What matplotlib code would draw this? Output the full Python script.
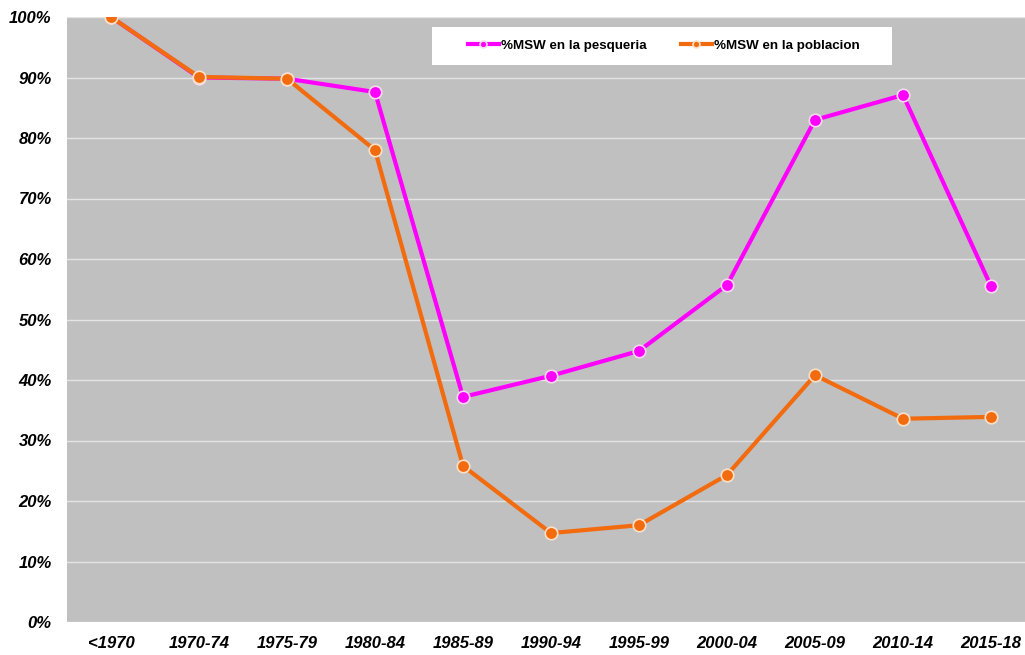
import matplotlib.pyplot as plt
from matplotlib.ticker import FuncFormatter
from matplotlib.patches import Rectangle

plt.rcParams['font.family'] = ['Liberation Sans', 'DejaVu Sans']

# periodos
periods = ['<1970', '1970-74', '1975-79', '1980-84', '1985-89', '1990-94',
           '1995-99', '2000-04', '2005-09', '2010-14', '2015-18']

# % MSW
pesqueria = [100.0, 90.0, 89.8, 87.6, 37.2, 40.7, 44.8, 55.7, 83.0, 87.1, 55.5]
poblacion = [100.0, 90.1, 89.8, 78.0, 25.8, 14.7, 16.0, 24.3, 40.8, 33.6, 33.9]

fig = plt.figure(figsize=(10.25, 6.55), dpi=100)
ax = fig.add_axes([67 / 1025, 33 / 655, 958 / 1025, 605 / 655])
ax.set_facecolor('#C0C0C0')

x = list(range(len(periods)))
ax.plot(x, pesqueria, color='#FF00FF', lw=3, marker='o', ms=9,
        mfc='#FF00FF', mec='#F8D8F0', mew=1.2, label='%MSW en la pesqueria', zorder=3)
ax.plot(x, poblacion, color='#F26B0F', lw=3, marker='o', ms=9,
        mfc='#F26B0F', mec='#FBE0C8', mew=1.2, label='%MSW en la poblacion', zorder=4)

ax.set_ylim(0, 100)
ax.set_xlim(-0.5, -0.5 + 958 / 88)
ax.set_yticks(range(0, 101, 10))
ax.yaxis.set_major_formatter(FuncFormatter(lambda v, p: f'{int(v)}%'))
ax.set_xticks(x)
ax.set_xticklabels(periods)
ax.grid(axis='y', color='#E4E4E4', lw=1)
ax.set_axisbelow(True)
for s in ax.spines.values():
    s.set_visible(False)
ax.tick_params(length=0)
ax.tick_params(axis='y', pad=11)
ax.tick_params(axis='x', pad=10)
for lab in ax.get_xticklabels() + ax.get_yticklabels():
    lab.set_fontsize(12)
    lab.set_fontweight('bold')
    lab.set_fontstyle('italic')

# caja blanca de la leyenda
ax.add_patch(Rectangle((432 / 1025, 1 - 65 / 655), 460 / 1025, 38 / 655,
                       transform=fig.transFigure, facecolor='white',
                       edgecolor='none', zorder=5, clip_on=False))
leg = ax.legend(loc='center left', bbox_to_anchor=(468 / 1025, 1 - 46 / 655),
                bbox_transform=fig.transFigure, ncol=2, frameon=False,
                prop={'size': 9.6, 'weight': 'bold'}, handlelength=2.3,
                handletextpad=0.15, markerscale=0.55, columnspacing=2.6,
                borderpad=0, borderaxespad=0)
leg.set_zorder(6)

fig.savefig('out.png', dpi=100, facecolor='white')
